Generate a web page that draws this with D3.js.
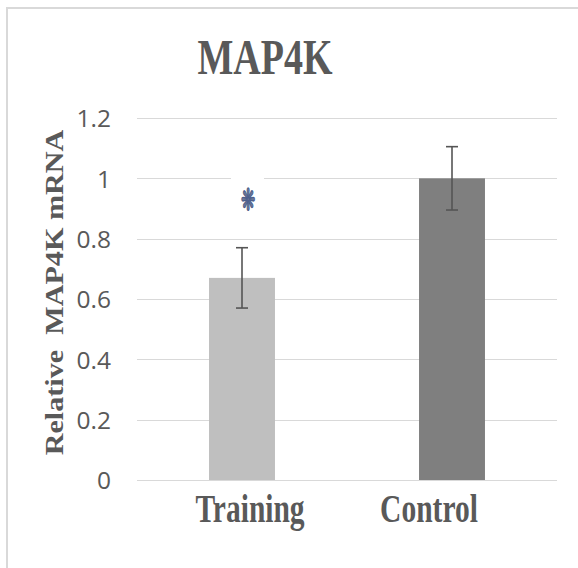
<!DOCTYPE html>
<html>
<head>
<meta charset="utf-8">
<script src="https://cdn.jsdelivr.net/npm/d3@7"></script>
<style>
  html, body { margin: 0; padding: 0; background: #fff; }
  svg { display: block; }
</style>
</head>
<body>
<svg id="chart" width="578" height="568"></svg>
<script>
// Relative MAP4K mRNA expression, Training vs Control
const categories = ["Training", "Control"];
const values = [0.67, 1.0];
const errors = [0.10, 0.105];
const barColors = ["#bfbfbf", "#7f7f7f"];
const yTicks = [0, 0.2, 0.4, 0.6, 0.8, 1, 1.2];
const significance = ["❋", ""];

const W = 578, H = 568;
const plot = { left: 137, right: 557, top: 118, bottom: 480 };
const stretch = 1.35;             // tall, narrow lettering
const textColor = "#595959";
const serif = "'Liberation Serif', 'Times New Roman', serif";

const svg = d3.select("#chart");

// outer frame (top and left edges show)
svg.append("rect")
  .attr("x", 7).attr("y", 8)
  .attr("width", W + 10).attr("height", H + 10)
  .attr("fill", "#fff")
  .attr("stroke", "#d9d9d9").attr("stroke-width", 2);

const x = d3.scaleBand()
  .domain(categories)
  .range([plot.left, plot.right])
  .paddingInner(0.686)
  .paddingOuter(0.343);

const y = d3.scaleLinear()
  .domain([0, 1.2])
  .range([plot.bottom, plot.top]);

// gridlines
svg.append("g")
  .selectAll("line")
  .data(yTicks)
  .join("line")
  .attr("x1", plot.left).attr("x2", plot.right)
  .attr("y1", d => Math.round(y(d)) + 0.5)
  .attr("y2", d => Math.round(y(d)) + 0.5)
  .attr("stroke", "#d9d9d9").attr("stroke-width", 1);

// y axis tick labels
const yAxis = d3.axisLeft(y)
  .tickValues(yTicks)
  .tickFormat(d3.format("~g"))
  .tickSize(0)
  .tickPadding(0);
const gy = svg.append("g")
  .attr("transform", `translate(${plot.left - 26},0)`)
  .call(yAxis);
gy.select(".domain").remove();
gy.selectAll("text")
  .attr("fill", textColor)
  .attr("font-family", "'Open Sans', sans-serif")
  .attr("font-size", 24.5)
  .attr("dy", "0.36em");

// bars
svg.append("g")
  .selectAll("rect")
  .data(categories)
  .join("rect")
  .attr("x", d => x(d))
  .attr("width", x.bandwidth())
  .attr("y", (d, i) => y(values[i]))
  .attr("height", (d, i) => y(0) - y(values[i]))
  .attr("fill", (d, i) => barColors[i]);

// error bars
const eb = svg.append("g")
  .attr("stroke", "#555").attr("stroke-width", 1.6).attr("fill", "none");
categories.forEach((c, i) => {
  const cx = x(c) + x.bandwidth() / 2;
  const hi = y(values[i] + errors[i]);
  const lo = y(values[i] - errors[i]);
  eb.append("line").attr("x1", cx).attr("x2", cx).attr("y1", hi).attr("y2", lo);
  eb.append("line").attr("x1", cx - 6).attr("x2", cx + 6).attr("y1", hi).attr("y2", hi);
  eb.append("line").attr("x1", cx - 6).attr("x2", cx + 6).attr("y1", lo).attr("y2", lo);
});

// significance marker with its label box
categories.forEach((c, i) => {
  if (!significance[i]) return;
  const cx = x(c) + x.bandwidth() / 2 + 6;
  const cy = y(values[i] + errors[i]) - 48;
  svg.append("rect")
    .attr("x", cx - 17).attr("y", cy - 25)
    .attr("width", 33).attr("height", 50)
    .attr("fill", "#fff");
  svg.append("text")
    .attr("transform", `translate(${cx},${cy}) scale(1,1.75)`)
    .attr("text-anchor", "middle")
    .attr("dy", "0.36em")
    .attr("font-family", "'DejaVu Sans', sans-serif")
    .attr("font-weight", "bold")
    .attr("font-size", 17)
    .attr("fill", "#6f7894")
    .attr("stroke", "#4d5f8c").attr("stroke-width", 0.8)
    .attr("stroke-linejoin", "round")
    .text(significance[i]);
});

// category labels
const labelNudge = [8, -23];
svg.append("g")
  .selectAll("text")
  .data(categories)
  .join("text")
  .attr("transform", (d, i) =>
    `translate(${x(d) + x.bandwidth() / 2 + labelNudge[i]},522) scale(1,${stretch})`)
  .attr("text-anchor", "middle")
  .attr("font-family", serif)
  .attr("font-weight", "bold")
  .attr("font-size", 29.5)
  .attr("fill", textColor)
  .text(d => d);

// title
svg.append("text")
  .attr("transform", `translate(265,74) scale(1,${stretch})`)
  .attr("text-anchor", "middle")
  .attr("font-family", serif)
  .attr("font-weight", "bold")
  .attr("font-size", 38)
  .attr("fill", textColor)
  .text("MAP4K");

// y axis title
svg.append("text")
  .attr("transform", `translate(63,292.5) rotate(-90) scale(1.16,1)`)
  .attr("text-anchor", "middle")
  .attr("font-family", serif)
  .attr("font-weight", "bold")
  .attr("font-size", 26)
  .attr("fill", textColor)
  .attr("xml:space", "preserve")
  .style("white-space", "pre")
  .text("Relative  MAP4K mRNA");
</script>
</body>
</html>
